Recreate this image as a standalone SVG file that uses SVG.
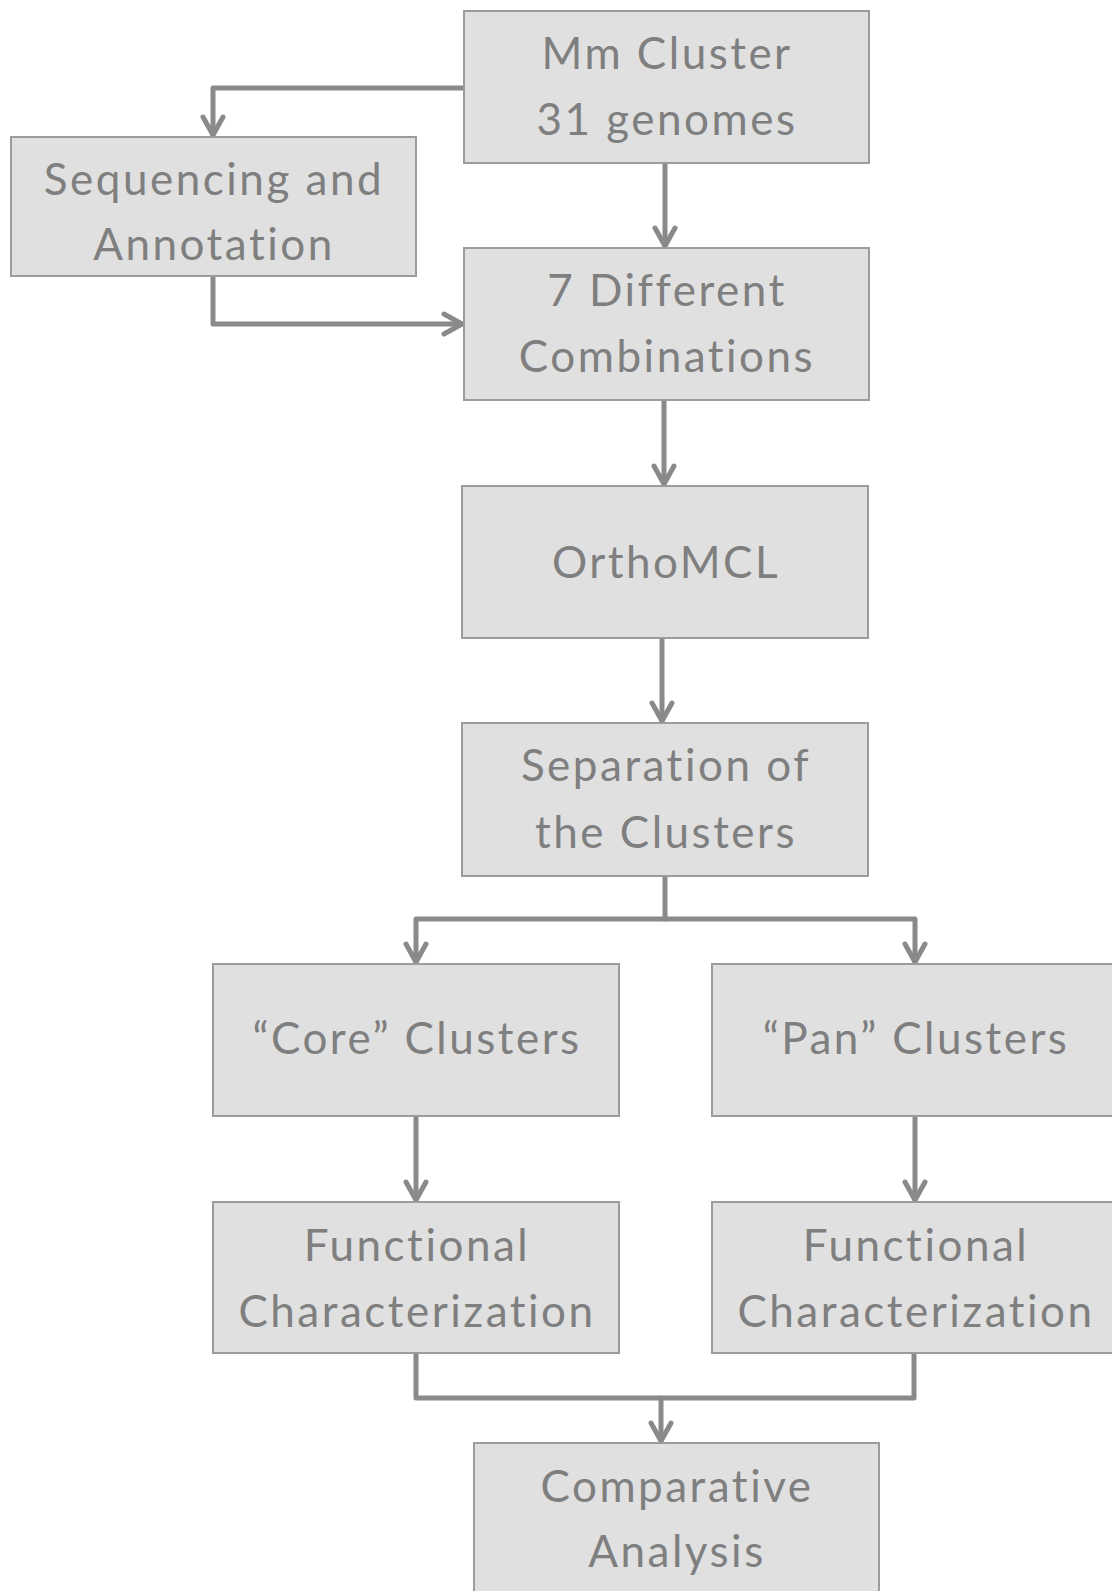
<svg xmlns="http://www.w3.org/2000/svg" width="1112" height="1591" viewBox="0 0 1112 1591">
<style>
.box{fill:#e0e0e0;stroke:#9c9c9c;stroke-width:2}
.t{font-family:Lato,"Noto Sans",sans-serif;font-size:44px;letter-spacing:2.5px;fill:#7f7f7f;text-anchor:middle}
.c{fill:none;stroke:#8a8a8a;stroke-width:5;stroke-linejoin:round;stroke-linecap:round}
</style>
<rect width="1112" height="1591" fill="#ffffff"/>
<g id="connectors">
<path class="c" d="M465,88 L213,88 L213,135"/>
<path class="c" d="M203,117 L213,135 L223,117"/>
<path class="c" d="M665,163 L665,246"/>
<path class="c" d="M655,228 L665,246 L675,228"/>
<path class="c" d="M213,276 L213,324 L462,324"/>
<path class="c" d="M444,314 L462,324 L444,334"/>
<path class="c" d="M664,400 L664,484"/>
<path class="c" d="M654,466 L664,484 L674,466"/>
<path class="c" d="M662,638 L662,721"/>
<path class="c" d="M652,703 L662,721 L672,703"/>
<path class="c" d="M665,876 L665,919"/>
<path class="c" d="M416,962 L416,919 L915,919 L915,962"/>
<path class="c" d="M406,944 L416,962 L426,944"/>
<path class="c" d="M905,944 L915,962 L925,944"/>
<path class="c" d="M416,1116 L416,1200"/>
<path class="c" d="M406,1182 L416,1200 L426,1182"/>
<path class="c" d="M915,1116 L915,1200"/>
<path class="c" d="M905,1182 L915,1200 L925,1182"/>
<path class="c" d="M416,1353 L416,1398 L914,1398 L914,1353"/>
<path class="c" d="M661,1398 L661,1441"/>
<path class="c" d="M651,1423 L661,1441 L671,1423"/>
</g>
<g id="mm">
<rect class="box" x="464" y="11" width="405" height="152"/>
<text class="t" x="667" y="69">Mm Cluster</text>
<text class="t" x="667" y="135">31 genomes</text>
</g>
<g id="seq">
<rect class="box" x="11" y="137" width="405" height="139"/>
<text class="t" x="214" y="195">Sequencing and</text>
<text class="t" x="214" y="260">Annotation</text>
</g>
<g id="comb">
<rect class="box" x="464" y="248" width="405" height="152"/>
<text class="t" x="667" y="306">7 Different</text>
<text class="t" x="667" y="372">Combinations</text>
</g>
<g id="ortho">
<rect class="box" x="462" y="486" width="406" height="152"/>
<text class="t" x="666" y="578">OrthoMCL</text>
</g>
<g id="sep">
<rect class="box" x="462" y="723" width="406" height="153"/>
<text class="t" x="666" y="781">Separation of</text>
<text class="t" x="666" y="848">the Clusters</text>
</g>
<g id="core">
<rect class="box" x="213" y="964" width="406" height="152"/>
<text class="t" x="417" y="1054">“Core” Clusters</text>
</g>
<g id="pan">
<rect class="box" x="712" y="964" width="406" height="152"/>
<text class="t" x="916" y="1054">“Pan” Clusters</text>
</g>
<g id="func1">
<rect class="box" x="213" y="1202" width="406" height="151"/>
<text class="t" x="417" y="1261">Functional</text>
<text class="t" x="417" y="1327">Characterization</text>
</g>
<g id="func2">
<rect class="box" x="712" y="1202" width="406" height="151"/>
<text class="t" x="916" y="1261">Functional</text>
<text class="t" x="916" y="1327">Characterization</text>
</g>
<g id="comp">
<rect class="box" x="474" y="1443" width="405" height="152"/>
<text class="t" x="677" y="1502">Comparative</text>
<text class="t" x="677" y="1567">Analysis</text>
</g>
</svg>
